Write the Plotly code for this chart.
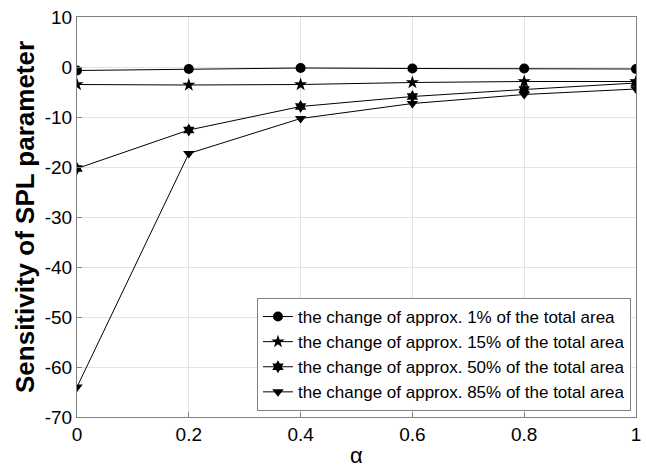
import plotly.graph_objects as go

alpha = [0, 0.2, 0.4, 0.6, 0.8, 1.0]
s1 = [-0.7, -0.4, -0.2, -0.3, -0.3, -0.4]
s2 = [-3.5, -3.6, -3.5, -3.1, -2.9, -2.9]
s3 = [-20.3, -12.6, -7.9, -5.9, -4.5, -3.2]
s4 = [-64.0, -17.3, -10.3, -7.3, -5.5, -4.4]
names = [
    "the change of approx. 1% of the total area",
    "the change of approx. 15% of the total area",
    "the change of approx. 50% of the total area",
    "the change of approx. 85% of the total area",
]
symbols = ["circle", "star", "hexagram", "triangle-down"]
xticks = [0, 0.2, 0.4, 0.6, 0.8, 1]
xticklabels = ["0", "0.2", "0.4", "0.6", "0.8", "1"]
yticks = [10, 0, -10, -20, -30, -40, -50, -60, -70]
yticklabels = ["10", "0", "-10", "-20", "-30", "-40", "-50", "-60", "-70"]

font = "Liberation Sans, Arial, sans-serif"
fig = go.Figure()
for ys, nm, sym in zip([s1, s2, s3, s4], names, symbols):
    fig.add_trace(go.Scatter(
        x=alpha, y=ys, name=nm, mode="lines+markers",
        line=dict(color="black", width=1),
        marker=dict(symbol=sym, size=10, color="black", line=dict(width=0)),
    ))

fig.update_layout(
    width=646, height=468,
    margin=dict(l=77, r=10, t=17, b=51),
    paper_bgcolor="white", plot_bgcolor="white",
    font=dict(family=font, color="black", size=16),
    showlegend=True,
    legend=dict(
        x=0.991, y=0.015, xanchor="right", yanchor="bottom",
        bgcolor="white", bordercolor="#808080", borderwidth=1,
        font=dict(size=17, family=font), itemwidth=30,
        tracegroupgap=0, traceorder="normal",
    ),
    xaxis=dict(
        range=[0, 1], tickvals=xticks, ticktext=xticklabels,
        showgrid=True, gridcolor="#e3e3e3", gridwidth=1,
        showline=True, linecolor="#808080", linewidth=1, mirror=True,
        ticks="inside", ticklen=5, tickcolor="#808080",
        zeroline=False, automargin=False,
        tickfont=dict(size=19),
    ),
    yaxis=dict(
        range=[-70, 10], tickvals=yticks, ticktext=yticklabels,
        showgrid=True, gridcolor="#e3e3e3", gridwidth=1,
        showline=True, linecolor="#808080", linewidth=1, mirror=True,
        ticks="inside", ticklen=5, tickcolor="#808080",
        zeroline=False, automargin=False,
        tickfont=dict(size=19),
    ),
    annotations=[
        dict(text="α", x=0.5, y=0, xref="paper", yref="paper",
             xanchor="center", yanchor="middle", yshift=-38, showarrow=False,
             font=dict(size=22, family=font)),
        dict(text="<b>Sensitivity of SPL parameter</b>", x=0, y=0.5,
             xref="paper", yref="paper", xanchor="center", yanchor="middle",
             xshift=-52, textangle=-90, showarrow=False,
             font=dict(size=26, family=font)),
    ],
)
fig.write_html("out.html", config={"displayModeBar": False},
               post_script="document.body.style.margin='0';")
